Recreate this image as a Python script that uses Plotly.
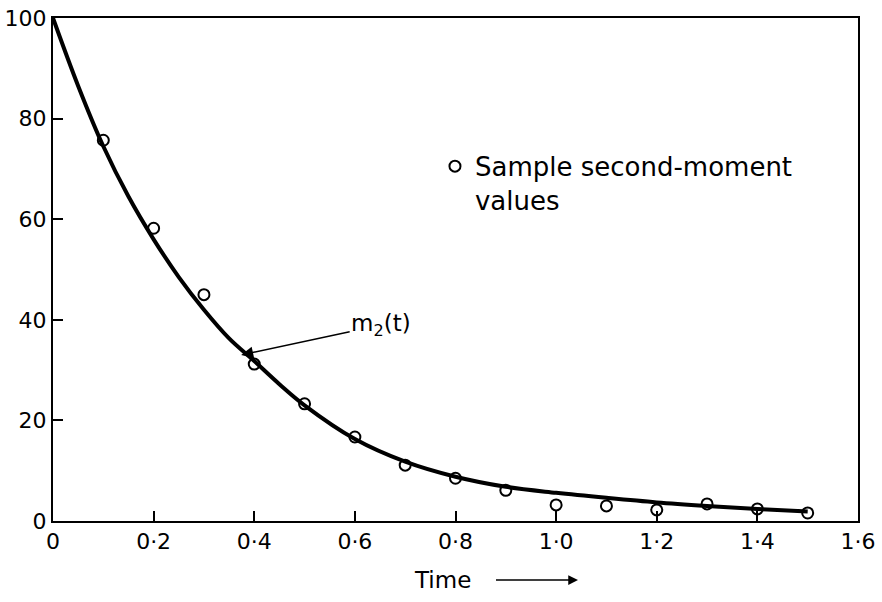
import plotly.graph_objects as go

# Sample second-moment values
sample_t = [0.1, 0.2, 0.3, 0.4, 0.5, 0.6, 0.7, 0.8, 0.9, 1.0, 1.1, 1.2, 1.3, 1.4, 1.5]
sample_m2 = [75.7, 58.2, 45.0, 31.2, 23.3, 16.7, 11.1, 8.5, 6.1, 3.2, 3.0, 2.2, 3.4, 2.4, 1.6]

# Theoretical curve m2(t)
curve_t = [0.0, 0.05, 0.1, 0.15, 0.2, 0.25, 0.3, 0.35, 0.4, 0.45, 0.5, 0.6, 0.7,
           0.8, 0.9, 1.0, 1.1, 1.2, 1.3, 1.4, 1.5]
curve_m2 = [100, 86.5, 74.5, 64.5, 56.0, 48.5, 42.0, 36.3, 31.8, 27.2, 23.0, 16.3,
            11.8, 8.8, 6.8, 5.6, 4.6, 3.7, 3.0, 2.4, 1.9]

x_ticks = [0, 0.2, 0.4, 0.6, 0.8, 1.0, 1.2, 1.4, 1.6]
x_labels = ["0", "0·2", "0·4", "0·6", "0·8", "1·0", "1·2", "1·4", "1·6"]
y_ticks = [0, 20, 40, 60, 80, 100]
y_labels = ["0", "20", "40", "60", "80", "100"]

FONT = "DejaVu Sans"

fig = go.Figure()
fig.add_trace(go.Scatter(x=curve_t, y=curve_m2, mode="lines",
                         line=dict(color="black", width=4, shape="spline"),
                         showlegend=False, hoverinfo="skip"))
fig.add_trace(go.Scatter(x=sample_t, y=sample_m2, mode="markers",
                         marker=dict(symbol="circle-open", size=11, color="black",
                                     line=dict(width=2, color="black")),
                         name="Sample second-moment<br>values", showlegend=True))

axis_common = dict(ticks="inside", ticklen=10, tickwidth=2, tickcolor="black",
                   showline=True, linecolor="black", linewidth=2, mirror=True,
                   showgrid=False, zeroline=False, tickfont=dict(size=22),
                   automargin=False, ticklabeloverflow="allow")

fig.update_layout(
    width=882, height=602,
    margin=dict(l=53, r=24, t=18, b=81),
    paper_bgcolor="white", plot_bgcolor="white",
    font=dict(family=FONT, size=22, color="black"),
    legend=dict(x=0.4745, y=0.752, xanchor="left", yanchor="top",
                bgcolor="rgba(0,0,0,0)", font=dict(size=26, family=FONT),
                valign="top", itemwidth=30),
    xaxis=dict(range=[0, 1.6], tickvals=x_ticks, ticktext=x_labels, **axis_common),
    yaxis=dict(range=[0, 100], tickvals=y_ticks, ticktext=y_labels, **axis_common),
    annotations=[
        dict(x=0.374, y=33.0, xref="x", yref="y", ax=140, ay=-30,
             axref="pixel", ayref="pixel", showarrow=True, arrowhead=2,
             arrowsize=1.6, arrowwidth=1.5, arrowcolor="black",
             text="m<sub>2</sub>(t)", font=dict(size=23)),
        dict(x=(578 - 53) / 805, y=(521 - 580) / 503, xref="paper", yref="paper",
             ax=-136, ay=0, axref="pixel", ayref="pixel", showarrow=True,
             arrowhead=2, arrowsize=1.3, arrowwidth=1.5, arrowcolor="black",
             startstandoff=24, text="Time", font=dict(size=23)),
    ],
)

fig.write_html("out.html", config={"displayModeBar": False},
               post_script="document.body.style.margin='0';document.body.style.overflow='hidden';")
